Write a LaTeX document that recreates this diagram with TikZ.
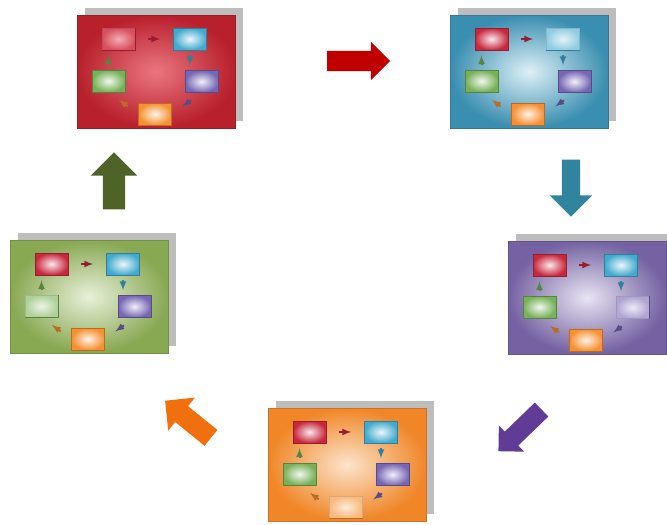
\documentclass[tikz,border=0pt]{standalone}
\usetikzlibrary{shapes.arrows, math}
%panel colours
\definecolor{myred}{RGB}{184,32,44}
\definecolor{myredl}{RGB}{234,118,128}
\definecolor{mycyan}{RGB}{58,142,176}
\definecolor{mycyanl}{RGB}{222,240,246}
\definecolor{mypurple}{RGB}{116,98,162}
\definecolor{mypurplel}{RGB}{232,228,242}
\definecolor{myorange}{RGB}{240,134,40}
\definecolor{myorangel}{RGB}{252,228,204}
\definecolor{mygreen}{RGB}{136,168,82}
\definecolor{mygreenl}{RGB}{232,240,218}
%box colours
\definecolor{bred}{RGB}{200,40,62}
\definecolor{bcyan}{RGB}{66,170,206}
\definecolor{bgreen}{RGB}{118,176,88}
\definecolor{bpurple}{RGB}{118,102,180}
\definecolor{borange}{RGB}{246,144,48}
%big arrow colours
\definecolor{arred}{RGB}{192,0,0}
\definecolor{arcyan}{RGB}{49,132,158}
\definecolor{arpurple}{RGB}{96,60,150}
\definecolor{arorange}{RGB}{240,112,16}
\definecolor{argreen}{RGB}{79,98,40}

\tikzset{
 panel/.style={rectangle, minimum width=158, minimum height=113, inner sep=0, draw=#1!85!black, line width=0.5},
 box/.style={rectangle, minimum width=33, minimum height=22, inner sep=0, draw=#1!75!black, line width=0.6, inner color=#1!10!white, outer color=#1},
 sarr/.style={-latex, line width=2, color=#1!75!black},
 bigarr/.style 2 args={single arrow, inner xsep=0, inner ysep=#1, single arrow head extend=#2, draw=none}
}

\begin{document}
\begin{tikzpicture}[x=1pt,y=-1pt]
\tikzmath{
\W=158;%panel width
\H=113;%panel height
}
\useasboundingbox[fill=white] (0,0) rectangle (667,525);

%panels
\foreach \px/\py/\pc/\pin/\cur/\n in {77/15/myred/myredl/r/A, 450/15/mycyan/mycyanl/c/B, 508/241/mypurple/mypurplel/p/C, 268/408/myorange/myorangel/o/D, 10/240/mygreen/mygreenl/g/E}{
\begin{scope}[shift={(\px,\py)}]
%shadow
\fill[black!26] (8,-7) rectangle ++(\W,\H);
\node[panel=\pc, inner color=\pin, outer color=\pc] (\n) at (\W/2,\H/2) {};
%small boxes
\node[box=bred] (\n r) at (41.5,24) {};
\node[box=bcyan] (\n c) at (113,24) {};
\node[box=bgreen] (\n g) at (31.5,66) {};
\node[box=bpurple] (\n p) at (124.5,66.5) {};
\node[box=borange] (\n o) at (78,99) {};
%current box faded
\fill[\pin, opacity=0.5] (\n\cur.south west) rectangle (\n\cur.north east);
%small arrows
\draw[sarr=bred, shorten <=13, shorten >=13] (\n r.east) -- (\n c.west);
\draw[sarr=bcyan, shorten <=5, shorten >=5] (\n c.south) -- (\n c.south |- \n p.north);
\draw[sarr=bpurple, shorten <=13, shorten >=13] (\n p.south) -- (\n o.east);
\draw[sarr=borange, shorten <=13, shorten >=13] (\n o.west) -- (\n g.south);
\draw[sarr=bgreen, shorten <=5, shorten >=5] (\n g.north) -- (\n g.north |- \n r.south);
\end{scope}
}

%big arrows
\node[bigarr={10}{9}, fill=arred, minimum height=63] (AB) at (353.5,61) {};
\node[bigarr={9}{12}, fill=arcyan, minimum height=57, rotate=-90] (BC) at (571,183.5) {};
\node[bigarr={9.5}{8.5}, fill=arpurple, minimum height=60, rotate=224] (CD) at (523.5,427) {};
\node[bigarr={10}{11}, fill=arorange, minimum height=59, rotate=141] (DE) at (192,422.5) {};
\node[bigarr={11}{12}, fill=argreen, minimum height=57, rotate=90] (EA) at (114,186.5) {};

\end{tikzpicture}
\end{document}
